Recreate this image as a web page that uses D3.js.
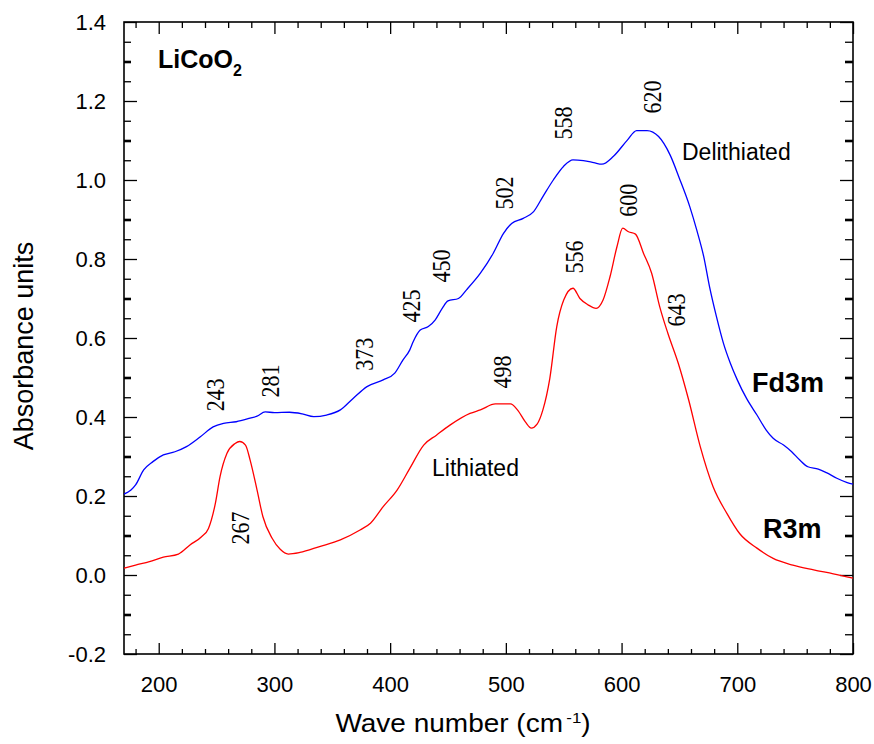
<!DOCTYPE html>
<html>
<head>
<meta charset="utf-8">
<script src="https://cdn.jsdelivr.net/npm/d3@7"></script>
<style>
  html, body { margin: 0; padding: 0; background: #fff; }
  svg { display: block; }
  text { font-family: "Liberation Sans", Arial, sans-serif; fill: #000; }
  text.serif { font-family: "Liberation Serif", "Times New Roman", serif; }
</style>
</head>
<body>
<svg id="chart" width="874" height="744"></svg>
<script>
// ---- Data ----
const delithWave = [170,176,180,187,195,204,214,224,236,247,256,267,279,285,292,300,313,324,334,345,357,368,380,394,404,411,417,420,426,433,439,445,450,459,466,478,489,498,505,515,524,532,541,550,558,567,576,583,593,605,613,622,632,642,650,659,665,671,676,682,688,694,700,708,717,725,731,740,747,754,761,770,777,786,795,800];
const delithAbs  = [0.205,0.215,0.228,0.266,0.287,0.304,0.312,0.325,0.350,0.375,0.384,0.388,0.397,0.402,0.413,0.411,0.412,0.408,0.401,0.405,0.418,0.447,0.477,0.494,0.511,0.544,0.570,0.591,0.620,0.629,0.646,0.675,0.694,0.700,0.722,0.764,0.814,0.865,0.890,0.903,0.920,0.958,1.000,1.035,1.051,1.049,1.044,1.040,1.060,1.101,1.125,1.125,1.110,1.063,1.004,0.932,0.873,0.806,0.730,0.654,0.587,0.536,0.494,0.447,0.405,0.367,0.346,0.329,0.312,0.291,0.274,0.268,0.259,0.245,0.234,0.230];

const lithWave = [170,180,192,204,217,227,237,243,249,253,259,266,270,275,279,285,290,298,305,312,322,339,357,374,383,394,406,417,429,440,452,469,478,491,504,510,517,522,527,532,538,544,550,558,564,571,578,584,590,596,601,606,612,619,626,633,640,649,658,668,679,691,702,717,731,748,766,783,800];
const lithAbs  = [0.017,0.025,0.034,0.045,0.053,0.076,0.097,0.118,0.182,0.249,0.308,0.333,0.338,0.329,0.291,0.215,0.148,0.093,0.065,0.053,0.057,0.072,0.089,0.114,0.131,0.173,0.215,0.270,0.329,0.354,0.380,0.409,0.418,0.433,0.433,0.418,0.387,0.372,0.382,0.418,0.498,0.629,0.696,0.726,0.700,0.684,0.675,0.696,0.755,0.831,0.878,0.869,0.863,0.814,0.764,0.679,0.612,0.536,0.443,0.325,0.224,0.156,0.105,0.068,0.042,0.025,0.013,0.003,-0.008];

const xTickValues = [200,300,400,500,600,700,800];
const yTickValues = [-0.2,0.0,0.2,0.4,0.6,0.8,1.0,1.2,1.4];
const yTickLabels = ["-0.2","0.0","0.2","0.4","0.6","0.8","1.0","1.2","1.4"];

// peak labels (text, wavenumber position, absorbance position of label centre)
const peakText = ["243","281","373","425","450","502","558","620","267","498","556","600","643"];
const peakW    = [249, 296, 377.4, 418, 444, 498.4, 549.4, 626.4, 270.3, 496.7, 558.9, 605.6, 647.1];
const peakA    = [0.456, 0.491, 0.559, 0.681, 0.782, 0.967, 1.144, 1.21, 0.119, 0.514, 0.805, 0.949, 0.671];

// ---- Layout ----
const svg = d3.select("#chart");
const L = 124, R = 853, T = 22, B = 654;
const x = d3.scaleLinear().domain([170, 800]).range([L, R]);
const y = d3.scaleLinear().domain([-0.2, 1.4]).range([B, T]);

const g = svg.append("g");

const xMinor = d3.range(180, 800, 20).filter(v => v % 100 !== 0);
const yAll = d3.range(-0.15, 1.4, 0.05).map(v => +v.toFixed(2));
const isTenth = v => Math.abs(Math.round(v * 10) - v * 10) < 1e-6;
const yMinor = yAll.filter(v => !(isTenth(v) && Math.round(v * 10) % 2 === 0));
const yTenth = yMinor.filter(isTenth);

function styleAxis(sel, w) {
  sel.select(".domain").remove();
  sel.selectAll("line").attr("stroke", "#000").attr("stroke-width", w || 1.3);
}

// bottom
g.append("g").attr("transform", `translate(0,${B})`)
  .call(d3.axisBottom(x).tickValues(xTickValues).tickSize(-11).tickPadding(22).tickFormat(d3.format("d")))
  .call(s => styleAxis(s))
  .selectAll("text").attr("font-size", 22);
g.append("g").attr("transform", `translate(0,${B})`)
  .call(d3.axisBottom(x).tickValues(xMinor).tickSize(-5).tickFormat(""))
  .call(s => styleAxis(s));
// top
g.append("g").attr("transform", `translate(0,${T})`)
  .call(d3.axisTop(x).tickValues(xTickValues).tickSize(-12).tickFormat(""))
  .call(s => styleAxis(s));
g.append("g").attr("transform", `translate(0,${T})`)
  .call(d3.axisTop(x).tickValues(xMinor).tickSize(-6).tickFormat(""))
  .call(s => styleAxis(s));
// left
g.append("g").attr("transform", `translate(${L},0)`)
  .call(d3.axisLeft(y).tickValues(yTickValues).tickSize(-13).tickPadding(18)
        .tickFormat((d, i) => yTickLabels[i]))
  .call(s => styleAxis(s))
  .selectAll("text").attr("font-size", 22);
g.append("g").attr("transform", `translate(${L},0)`)
  .call(d3.axisLeft(y).tickValues(yMinor).tickSize(-7).tickFormat(""))
  .call(s => styleAxis(s));
g.append("g").attr("transform", `translate(${L},0)`)
  .call(d3.axisLeft(y).tickValues(yTenth).tickSize(-7).tickFormat(""))
  .call(s => styleAxis(s, 2.6));
// right
g.append("g").attr("transform", `translate(${R},0)`)
  .call(d3.axisRight(y).tickValues(yTickValues).tickSize(-13).tickFormat(""))
  .call(s => styleAxis(s));
g.append("g").attr("transform", `translate(${R},0)`)
  .call(d3.axisRight(y).tickValues(yMinor).tickSize(-8).tickFormat(""))
  .call(s => styleAxis(s));
g.append("g").attr("transform", `translate(${R},0)`)
  .call(d3.axisRight(y).tickValues(yTenth).tickSize(-8).tickFormat(""))
  .call(s => styleAxis(s, 2.6));

// frame
g.append("rect").attr("x", L).attr("y", T).attr("width", R - L).attr("height", B - T)
  .attr("fill", "none").attr("stroke", "#000").attr("stroke-width", 1.6);

// curves
svg.append("clipPath").attr("id", "clip").append("rect")
  .attr("x", L).attr("y", T).attr("width", R - L).attr("height", B - T);

const line = d3.line().x(d => x(d[0])).y(d => y(d[1])).curve(d3.curveMonotoneX);
g.append("path").datum(d3.zip(lithWave, lithAbs)).attr("d", line)
  .attr("fill", "none").attr("stroke", "#ff0000").attr("stroke-width", 1.3).attr("clip-path", "url(#clip)");
g.append("path").datum(d3.zip(delithWave, delithAbs)).attr("d", line)
  .attr("fill", "none").attr("stroke", "#0000ff").attr("stroke-width", 1.3).attr("clip-path", "url(#clip)");

// peak labels
peakText.forEach((t, i) => {
  g.append("text").attr("class", "serif")
    .attr("transform", `translate(${x(peakW[i])},${y(peakA[i])}) rotate(-90) scale(1,1.15)`)
    .attr("text-anchor", "middle").attr("dy", "0.35em")
    .attr("font-size", 22)
    .text(t);
});

// series / title labels
g.append("text").attr("x", 682).attr("y", 160).attr("font-size", 23).text("Delithiated");
g.append("text").attr("x", 432).attr("y", 476).attr("font-size", 23).text("Lithiated");
g.append("text").attr("x", 752).attr("y", 392).attr("font-size", 27).attr("font-weight", "bold").text("Fd3m");
g.append("text").attr("x", 763).attr("y", 538).attr("font-size", 27).attr("font-weight", "bold").text("R3m");
const lc = g.append("text").attr("x", 158).attr("y", 68).attr("font-size", 25).attr("font-weight", "bold");
lc.append("tspan").text("LiCoO");
lc.append("tspan").attr("font-size", 16).attr("dy", 8).text("2");

// axis titles
const xt = g.append("text").attr("transform", "translate(463,732) scale(1.12,1)")
  .attr("text-anchor", "middle").attr("font-size", 25);
xt.append("tspan").text("Wave number (cm");
xt.append("tspan").attr("font-size", 15).attr("dy", -9).attr("dx", 3).text("-1");
xt.append("tspan").attr("dy", 9).text(")");

g.append("text").attr("transform", "translate(33,346) rotate(-90)").attr("text-anchor", "middle")
  .attr("font-size", 27).text("Absorbance units");
</script>
</body>
</html>
